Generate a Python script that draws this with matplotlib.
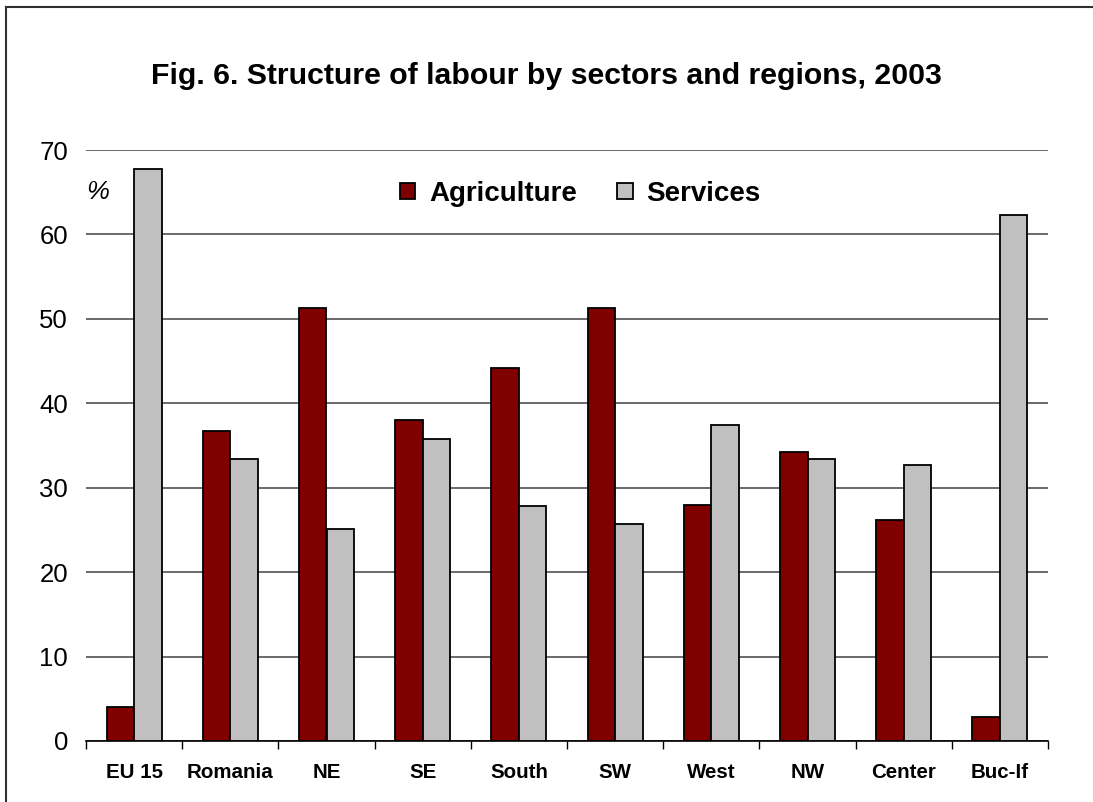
import matplotlib
matplotlib.use("Agg")
import matplotlib.pyplot as plt
import numpy as np
from matplotlib.lines import Line2D

categories = ["EU 15", "Romania", "NE", "SE", "South", "SW", "West", "NW", "Center", "Buc-If"]
agriculture = [4.0, 36.7, 51.3, 38.0, 44.2, 51.3, 28.0, 34.2, 26.2, 2.8]
services = [67.7, 33.4, 25.1, 35.8, 27.8, 25.7, 37.4, 33.4, 32.7, 62.3]
yticks = [0, 10, 20, 30, 40, 50, 60, 70]
title = "Fig. 6. Structure of labour by sectors and regions, 2003"

plt.rcParams['font.family'] = ['Liberation Sans', 'DejaVu Sans']

fig = plt.figure(figsize=(10.93, 8.02), dpi=100)
ax = fig.add_axes([86/1093, 61/802, (1048-86)/1093, (741-150)/802])

x = np.arange(len(categories))
w = 0.285
ax.bar(x - w/2, agriculture, w, color='#800000', edgecolor='black', linewidth=1.3,
       label='Agriculture', zorder=3)
ax.bar(x + w/2, services, w, color='#C0C0C0', edgecolor='black', linewidth=1.3,
       label='Services', zorder=3)

ax.set_xlim(-0.5, len(categories) - 0.5)
ax.set_ylim(0, 70)
ax.set_yticks(yticks)
ax.set_yticklabels([str(v) for v in yticks], fontsize=18.5)
ax.tick_params(axis='y', length=0, pad=13)

ax.set_xticks(x)
ax.set_xticklabels(categories, fontsize=14.8, fontweight='bold')
ax.set_xticks(np.arange(-0.5, len(categories)), minor=True)
ax.tick_params(axis='x', which='major', length=0, pad=16)
ax.tick_params(axis='x', which='minor', length=6, width=1, color='black', direction='out')

for s in ['top', 'right', 'left']:
    ax.spines[s].set_visible(False)
ax.spines['bottom'].set_color('black')
ax.spines['bottom'].set_linewidth(1.2)

ax.yaxis.grid(True, color='#505050', linewidth=1.2, zorder=0)
ax.set_axisbelow(True)

ax.text(0.0, 0.929, '%', transform=ax.transAxes, fontsize=18.5, style='italic',
        ha='left', va='center')

leg = ax.legend(loc='upper center', bbox_to_anchor=(0.514, 0.99), ncol=2, frameon=False,
                prop={'size': 20, 'weight': 'bold'}, handlelength=0.55, handleheight=0.55,
                handletextpad=0.5, columnspacing=1.45)

fig.text(546/1093, 1 - 76/802, title, fontsize=21.8, fontweight='bold',
         ha='center', va='center')

# figure border (top and left visible)
fig.add_artist(Line2D([5.5/1093, 1.0], [1 - 6.5/802, 1 - 6.5/802], color='#303030', linewidth=1.5,
                      transform=fig.transFigure))
fig.add_artist(Line2D([5.5/1093, 5.5/1093], [0.0, 1 - 6.5/802], color='#303030', linewidth=1.5,
                      transform=fig.transFigure))

fig.savefig("out.png", dpi=100)
